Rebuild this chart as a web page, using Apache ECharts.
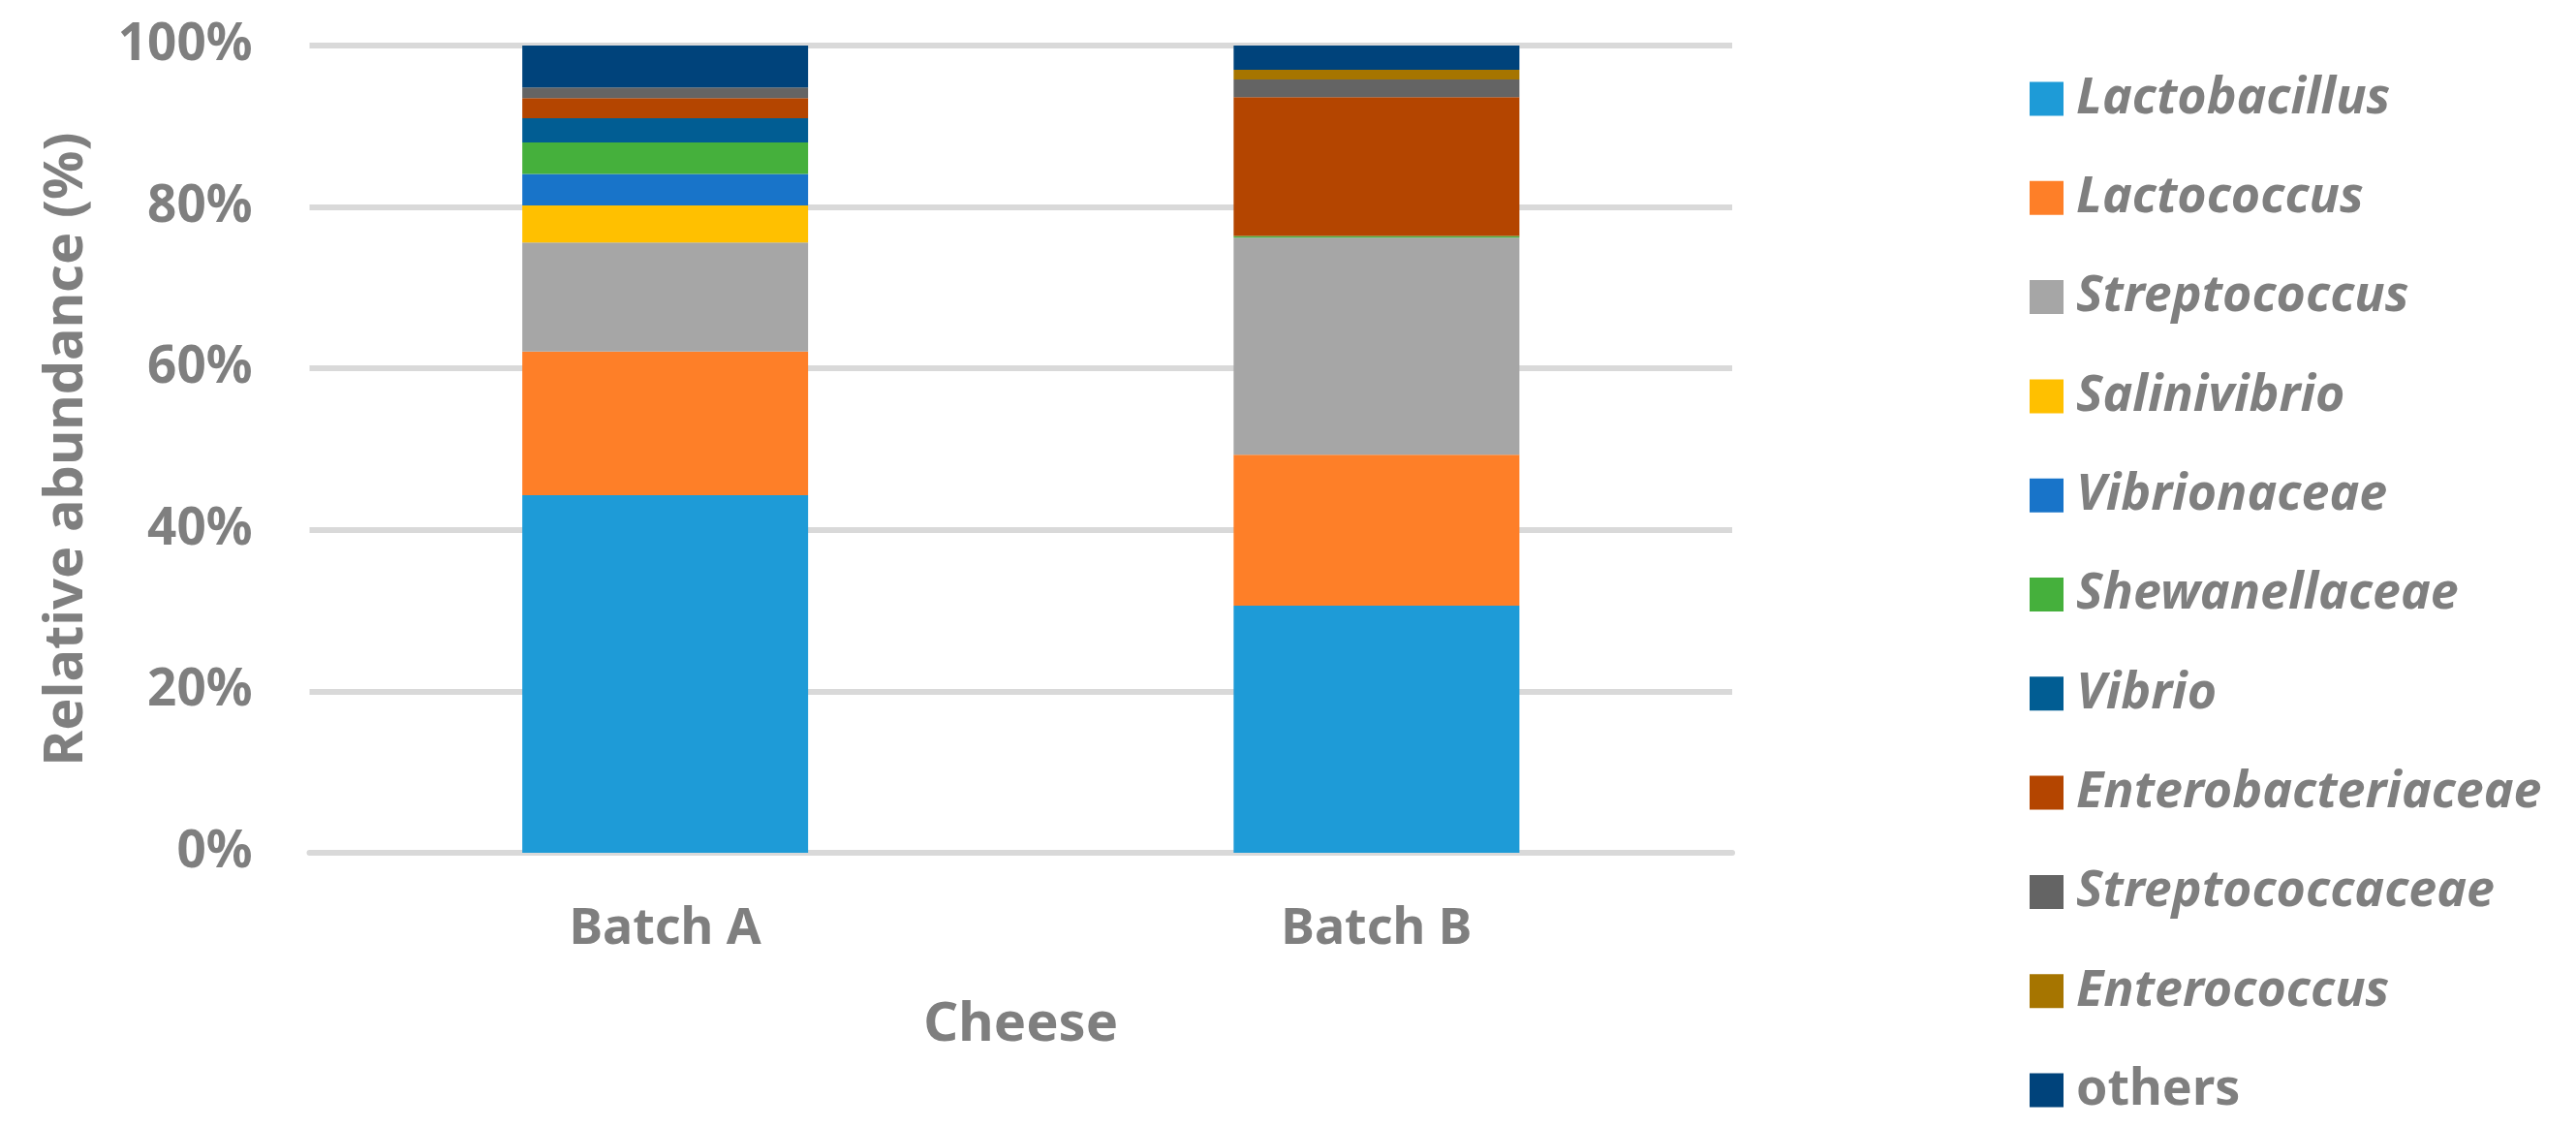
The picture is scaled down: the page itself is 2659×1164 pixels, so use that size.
<!DOCTYPE html>
<html>
<head>
<meta charset="utf-8">
<script src="https://cdn.jsdelivr.net/npm/echarts@6/dist/echarts.min.js"></script>
<style>
html,body{margin:0;padding:0;background:#fff;}
#chart{width:2659px;height:1164px;}
</style>
</head>
<body>
<div id="chart"></div>
<script>
const categories = ['Batch A', 'Batch B'];
const taxa = ['Lactobacillus', 'Lactococcus', 'Streptococcus', 'Salinivibrio', 'Vibrionaceae',
  'Shewanellaceae', 'Vibrio', 'Enterobacteriaceae', 'Streptococcaceae', 'Enterococcus', 'others'];
const lactobacillus = [44.3, 30.6];
const lactococcus = [17.8, 18.7];
const streptococcus = [13.5, 26.9];
const salinivibrio = [4.6, 0];
const vibrionaceae = [3.9, 0];
const shewanellaceae = [3.9, 0.2];
const vibrio = [3.0, 0];
const enterobacteriaceae = [2.5, 17.2];
const streptococcaceae = [1.3, 2.2];
const enterococcus = [0, 1.2];
const others = [5.2, 3.0];
const yTicks = [0, 20, 40, 60, 80, 100];

const seriesValues = [lactobacillus, lactococcus, streptococcus, salinivibrio, vibrionaceae,
  shewanellaceae, vibrio, enterobacteriaceae, streptococcaceae, enterococcus, others];
const colors = ['#1e9bd7', '#fe7f28', '#a6a6a6', '#ffc000', '#1874c9', '#45b03c',
  '#015d93', '#b44500', '#646464', '#a67500', '#00437b'];

const font = 'Noto Sans';
const grey = '#7f7f7f';

const chart = echarts.init(document.getElementById('chart'));
chart.setOption({
  backgroundColor: '#fff',
  animation: false,
  color: colors,
  grid: { left: 319.5, right: 871, top: 47, bottom: 284, containLabel: false },
  legend: {
    orient: 'vertical',
    left: 2090,
    top: 71,
    itemWidth: 35,
    itemHeight: 35,
    itemGap: 50.3,
    icon: 'rect',
    data: taxa.map(function (n) {
      return n === 'others' ? { name: n, textStyle: { fontStyle: 'normal' } } : { name: n };
    }),
    textStyle: {
      fontFamily: font, fontSize: 52, fontWeight: 'bold', fontStyle: 'italic',
      color: grey, padding: [0, 0, 0, 8]
    }
  },
  xAxis: {
    type: 'category',
    data: categories,
    name: 'Cheese',
    nameLocation: 'middle',
    nameGap: 150,
    nameTextStyle: { fontFamily: font, fontSize: 56, fontWeight: 'bold', color: grey },
    axisLine: { show: true, lineStyle: { color: '#d9d9d9', width: 6 } },
    axisTick: { show: false },
    axisLabel: { margin: 53, fontFamily: font, fontSize: 52, fontWeight: 'bold', color: grey }
  },
  yAxis: {
    type: 'value',
    min: 0,
    max: 100,
    interval: 20,
    name: 'Relative abundance (%)',
    nameLocation: 'middle',
    nameGap: 222,
    nameTextStyle: { fontFamily: font, fontSize: 56, fontWeight: 'bold', color: grey },
    axisLine: { show: false },
    axisTick: { show: false },
    splitLine: { lineStyle: { color: '#d9d9d9', width: 6 } },
    axisLabel: {
      margin: 59, fontFamily: font, fontSize: 53, fontWeight: 'bold', color: grey,
      formatter: function (v) { return yTicks.indexOf(v) >= 0 ? v + '%' : ''; }
    }
  },
  series: taxa.map(function (name, i) {
    return {
      name: name,
      type: 'bar',
      stack: 'total',
      barWidth: 295,
      data: seriesValues[i],
      itemStyle: { color: colors[i] }
    };
  })
});
</script>
</body>
</html>
